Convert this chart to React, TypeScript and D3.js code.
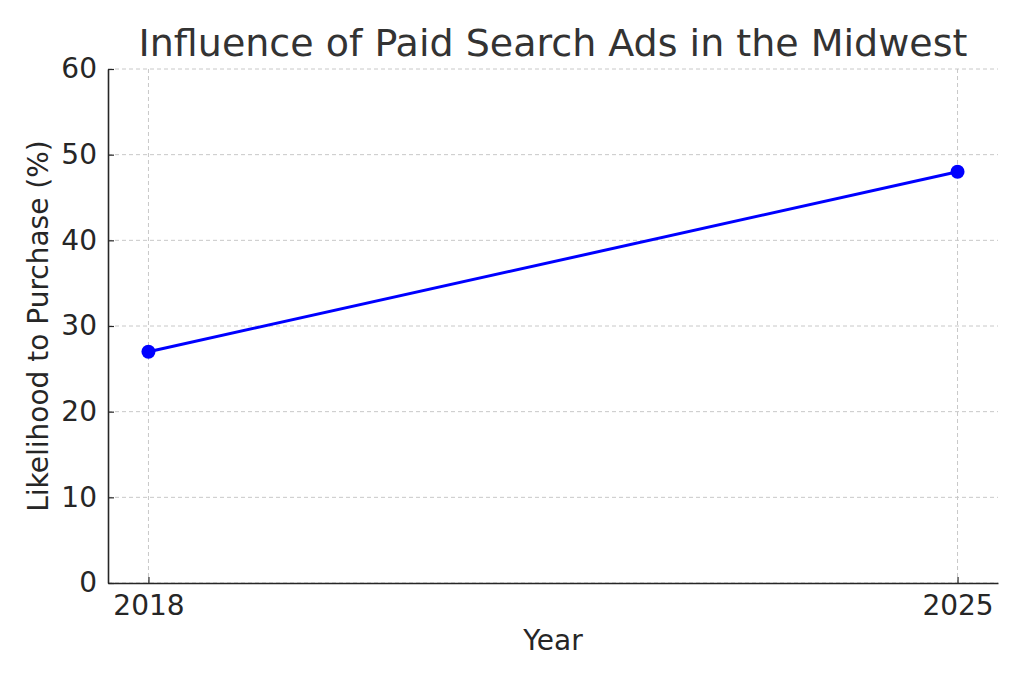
import React, { useEffect, useRef } from 'react';
import * as d3 from 'd3';

// Likelihood to purchase after seeing paid search ads, by year
const years = [2018, 2025];
const likelihood = [27, 48];
const yTicks = [0, 10, 20, 30, 40, 50, 60];

const W = 1024;
const H = 683;

function App() {
  const svgRef = useRef<SVGSVGElement>(null);

  useEffect(() => {
    const margin = { top: 69, right: 26, bottom: 100, left: 108 };
    const width = W - margin.left - margin.right;
    const height = H - margin.top - margin.bottom;

    d3.select(svgRef.current).selectAll('*').remove();

    const root = d3.select(svgRef.current)
      .attr('width', W)
      .attr('height', H)
      .style('font-family', '"DejaVu Sans", sans-serif');

    root.append('rect').attr('width', W).attr('height', H).attr('fill', '#fff');

    const svg = root.append('g')
      .attr('transform', `translate(${margin.left},${margin.top})`);

    // 5% padding on each side of the year range, like matplotlib's default margins
    const pad = (years[1] - years[0]) * 0.05;
    const x = d3.scaleLinear()
      .domain([years[0] - pad, years[1] + pad])
      .range([0, width]);

    const y = d3.scaleLinear()
      .domain([0, 60])
      .range([height, 0]);

    // dashed grid
    svg.append('g')
      .selectAll('line')
      .data(yTicks)
      .join('line')
      .attr('x1', 0)
      .attr('x2', width)
      .attr('y1', d => y(d))
      .attr('y2', d => y(d))
      .attr('stroke', '#c8c8c8')
      .attr('stroke-dasharray', '4,3');

    svg.append('g')
      .selectAll('line')
      .data(years)
      .join('line')
      .attr('x1', d => x(d))
      .attr('x2', d => x(d))
      .attr('y1', 0)
      .attr('y2', height)
      .attr('stroke', '#c8c8c8')
      .attr('stroke-dasharray', '4,3');

    // axes with inward ticks
    const xAxis = svg.append('g')
      .attr('transform', `translate(0,${height})`)
      .call(d3.axisBottom(x).tickValues(years).tickFormat(d3.format('d')).tickSizeInner(-6).tickSizeOuter(0).tickPadding(12));

    const yAxis = svg.append('g')
      .call(d3.axisLeft(y).tickValues(yTicks).tickSizeInner(-6).tickSizeOuter(0).tickPadding(11));

    [xAxis, yAxis].forEach(g => {
      g.select('.domain').attr('stroke', '#262626').attr('stroke-width', 1.6);
      g.selectAll('.tick line').attr('stroke', '#262626').attr('stroke-width', 1.2);
      g.selectAll('.tick text')
        .attr('fill', '#262626')
        .style('font-size', '28px')
        .style('font-family', '"DejaVu Sans", sans-serif');
    });

    // line and markers
    const pts = years.map((yr, i) => ({ yr, v: likelihood[i] }));
    const line = d3.line<{ yr: number; v: number }>()
      .x(d => x(d.yr))
      .y(d => y(d.v));

    svg.append('path')
      .datum(pts)
      .attr('d', line)
      .attr('fill', 'none')
      .attr('stroke', '#0000ff')
      .attr('stroke-width', 3);

    svg.selectAll('circle')
      .data(pts)
      .join('circle')
      .attr('cx', d => x(d.yr))
      .attr('cy', d => y(d.v))
      .attr('r', 7)
      .attr('fill', '#0000ff');

    // title and axis labels
    root.append('text')
      .attr('x', margin.left + width / 2)
      .attr('y', 56)
      .attr('text-anchor', 'middle')
      .attr('fill', '#333333')
      .style('font-size', '38px')
      .text('Influence of Paid Search Ads in the Midwest');

    root.append('text')
      .attr('x', margin.left + width / 2)
      .attr('y', 650)
      .attr('text-anchor', 'middle')
      .attr('fill', '#262626')
      .style('font-size', '28px')
      .text('Year');

    root.append('text')
      .attr('transform', `translate(48,${margin.top + height / 2}) rotate(-90)`)
      .attr('text-anchor', 'middle')
      .attr('fill', '#262626')
      .style('font-size', '28px')
      .text('Likelihood to Purchase (%)');
  }, []);

  return <svg ref={svgRef} style={{ display: 'block', position: 'absolute', left: 0, top: 0 }}></svg>;
}

export default App;
